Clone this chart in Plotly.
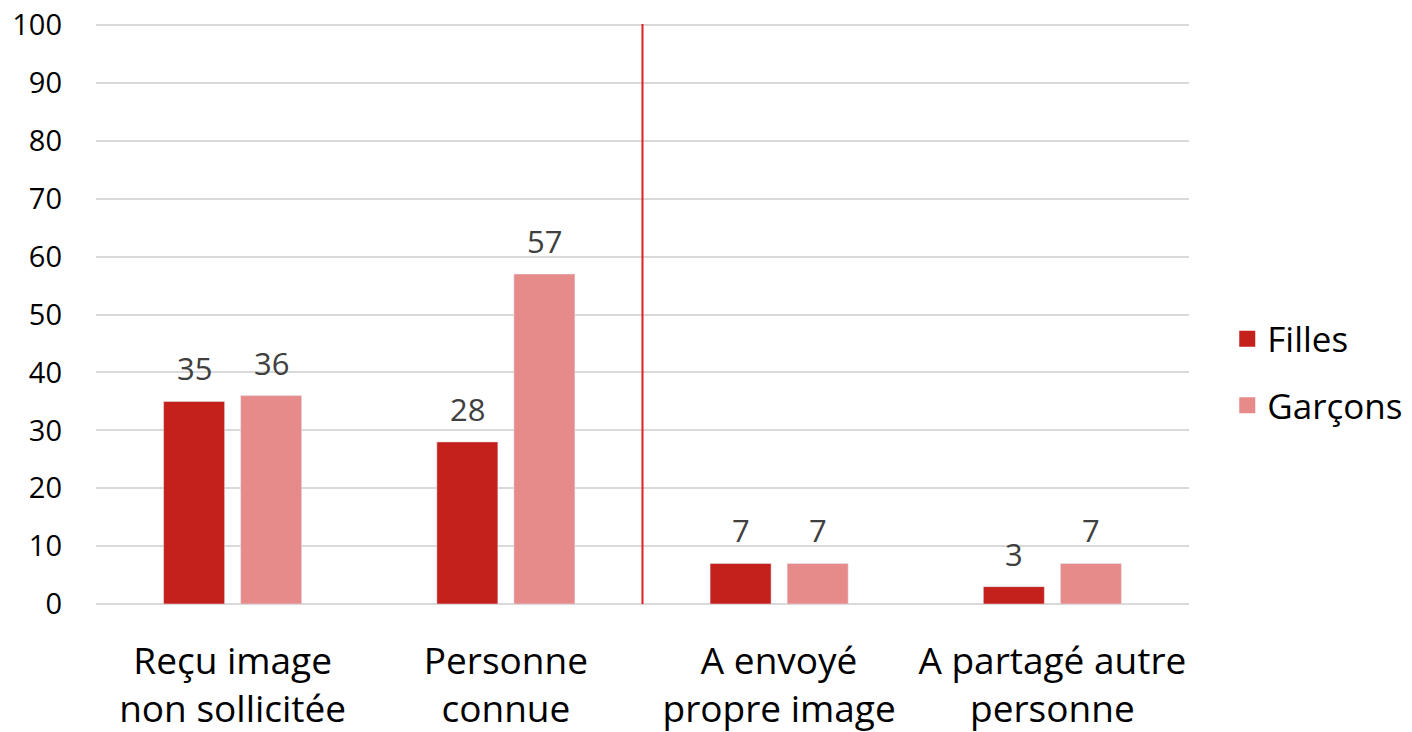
import plotly.graph_objects as go

categories = ["Reçu image<br>non sollicitée", "Personne<br>connue", "A envoyé<br>propre image", "A partagé autre<br>personne"]
series_names = ["Filles", "Garçons"]
filles = [35, 28, 7, 3]
garcons = [36, 57, 7, 7]
y_ticks = list(range(0, 101, 10))

FONT = "Open Sans"
COLORS = ["#C4201C", "#E68A8A"]
fig = go.Figure()
for name, vals, col in zip(series_names, (filles, garcons), COLORS):
    fig.add_trace(go.Bar(name=name, x=categories, y=vals, marker_color=col, showlegend=False))
for name, col in zip(series_names, COLORS):
    fig.add_trace(go.Scatter(name=name, x=[None], y=[None], mode="markers", legendgroup=name,
                             marker=dict(symbol="square", size=24, color=col)))

ann = []
for vals, shift in ((filles, -38.5), (garcons, 38.5)):
    for c, v in zip(categories, vals):
        ann.append(dict(x=c, y=v, text=str(v), showarrow=False, xshift=shift, yshift=33,
                        yanchor="middle", font=dict(family=FONT, size=31, color="#404040")))

fig.update_layout(
    width=1412, height=732,
    margin=dict(l=88, r=227, t=16, b=136),
    plot_bgcolor="white", paper_bgcolor="white",
    barmode="group", bargap=0.436, bargroupgap=0.208,
    font=dict(family=FONT, color="#000000"),
    xaxis=dict(showgrid=False, showline=False, ticks="", tickfont=dict(size=37),
               ticklabelstandoff=32, automargin=False),
    yaxis=dict(range=[0, 100.2], tickvals=y_ticks, showgrid=True, gridcolor="#D9D9D9", gridwidth=2,
               zeroline=True, zerolinecolor="#D9D9D9", zerolinewidth=2, ticklabeloverflow="allow",
               tickfont=dict(size=29), ticklabelstandoff=33, automargin=False),
    legend=dict(x=1.035, y=0.40, yanchor="middle", xanchor="left", font=dict(size=35),
                tracegroupgap=18, itemwidth=30, traceorder="grouped", itemsizing="trace"),
    annotations=ann,
    shapes=[dict(type="line", xref="x", yref="y", x0=1.5, x1=1.5, y0=-0.7, y1=100.6,
                 line=dict(color="#E02020", width=2))],
)
fig.write_html("out.html")
